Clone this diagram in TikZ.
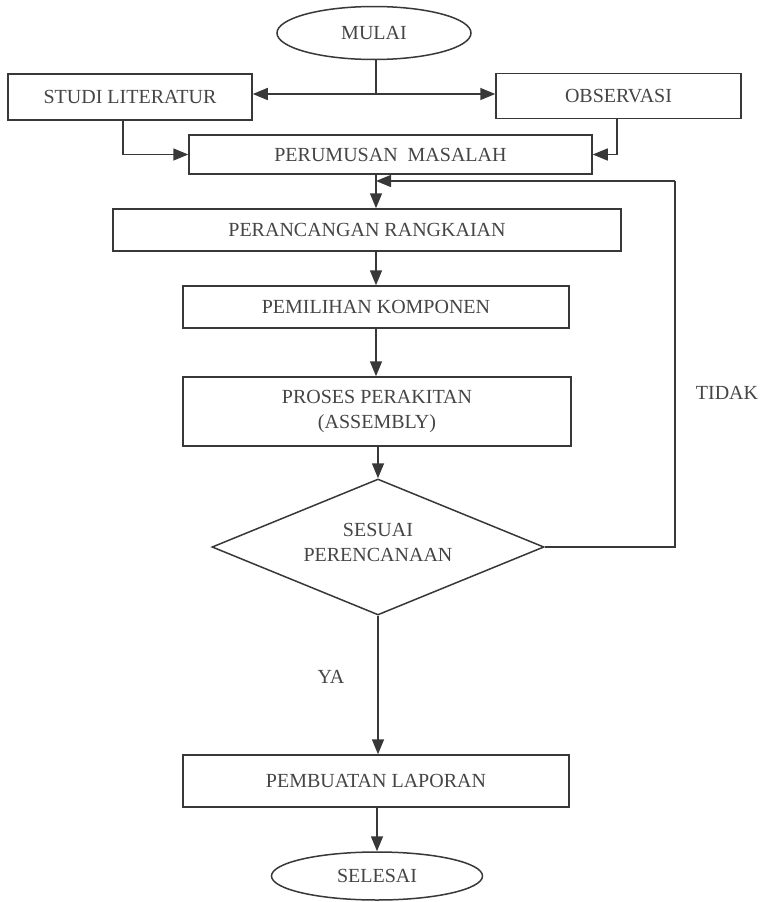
\documentclass[tikz,border=0pt]{standalone}
\usepackage{fontspec}
\setmainfont{Liberation Serif}
\usetikzlibrary{shapes.geometric,arrows.meta}
\definecolor{ink}{HTML}{383838}
\definecolor{txt}{HTML}{454545}
\begin{document}
\begin{tikzpicture}[x=1pt,y=-1pt,
  every node/.style={text=txt,font=\fontsize{20}{25}\selectfont},
  box/.style={draw=ink,line width=1.5pt,rectangle,inner sep=0pt,align=center},
  oval/.style={draw=ink,line width=1.5pt,ellipse,inner sep=0pt},
  decide/.style={draw=ink,line width=1.5pt,diamond,inner sep=0pt,align=center},
  conn/.style={draw=ink,line width=1.5pt},
  arr/.style={conn,-{Triangle[length=15pt,width=12pt]}},
  lbl/.style={inner sep=0pt}]
\useasboundingbox[fill=white] (0,0) rectangle (762,902);

\node[oval,minimum width=194pt,minimum height=53pt] (mulai) at (374,33) {MULAI};
\node[box,minimum width=244pt,minimum height=46pt] (studi) at (130,97) {STUDI LITERATUR};
\node[box,minimum width=245pt,minimum height=45pt] (obs) at (618.5,96) {OBSERVASI};
\node[box,minimum width=403pt,minimum height=39pt] (rumus) at (390.5,154.5) {PERUMUSAN\ \ MASALAH};
\node[box,minimum width=508pt,minimum height=42pt] (rancang) at (367,230) {PERANCANGAN RANGKAIAN};
\node[box,minimum width=386pt,minimum height=42pt] (pilih) at (376,307) {PEMILIHAN KOMPONEN};
\node[box,minimum width=388pt,minimum height=69pt] (rakit) at (377,411.5) {PROSES PERAKITAN\\(ASSEMBLY)};
\node[decide,minimum width=332pt,minimum height=136pt] (sesuai) at (378,547) {};
\node[lbl,align=center] (sesuaitxt) at (378,542) {SESUAI\\PERENCANAAN};
\node[box,minimum width=386pt,minimum height=52pt] (lapor) at (376,781) {PEMBUATAN LAPORAN};
\node[oval,minimum width=211pt,minimum height=48pt] (selesai) at (377,876) {SELESAI};
\node[lbl] (tidak) at (727,393) {TIDAK};
\node[lbl] (ya) at (331,677) {YA};

\coordinate (j) at (376,94);
\coordinate (fb) at (675,181);

\draw[conn] (mulai.south -| j) -- (j);
\draw[arr] (j) -- (j -| studi.east);
\draw[arr] (j) -- (j -| obs.west);
\draw[arr] ([xshift=-7pt]studi.south) |- (rumus.west);
\draw[arr] ([xshift=-1.5pt]obs.south) |- (rumus.east);
\draw[arr] (rumus.south -| pilih.north) -- (rancang.north -| pilih.north);
\draw[arr] (rancang.south -| pilih.north) -- (pilih.north);
\draw[arr] (pilih.south) -- (rakit.north -| pilih.south);
\draw[arr] (rakit.south -| sesuai.north) -- (sesuai.north);
\draw[arr] (sesuai.south) -- (lapor.north -| sesuai.south);
\draw[arr] (lapor.south -| selesai.north) -- (selesai.north);
\draw[conn] (sesuai.east) -| (fb);
\draw[arr] (fb) -- (fb -| pilih.north);
\end{tikzpicture}
\end{document}
